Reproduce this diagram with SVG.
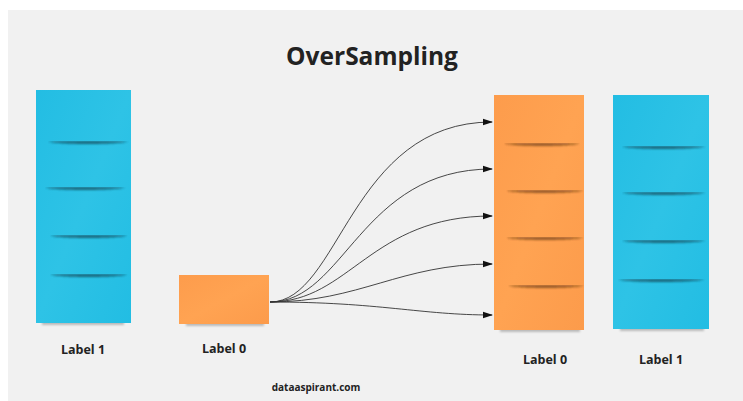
<svg xmlns="http://www.w3.org/2000/svg" width="743" height="401" viewBox="0 0 743 401">
<defs>
<linearGradient id="gb" x1="0" y1="0" x2="1" y2="1">
<stop offset="0" stop-color="#23bde3"/><stop offset="0.5" stop-color="#2ec3e6"/><stop offset="1" stop-color="#22bde3"/>
</linearGradient>
<linearGradient id="go" x1="0" y1="0" x2="1" y2="1">
<stop offset="0" stop-color="#fd9c4c"/><stop offset="0.5" stop-color="#ffa352"/><stop offset="1" stop-color="#fc9b4b"/>
</linearGradient>
<filter id="sh" filterUnits="userSpaceOnUse" x="0" y="0" width="743" height="401"><feGaussianBlur stdDeviation="0.8"/></filter>
<marker id="ah" markerWidth="10" markerHeight="8" refX="9" refY="4" orient="auto" markerUnits="userSpaceOnUse">
<path d="M0,0.8 L10,4 L0,7.2 z" fill="#111"/>
</marker>
<path id="s1" d="M0,0 C8,3 72,3 80,0 Q40,-0.4 0,0 z"/>
</defs>
<style>
.t{font-family:"Open Sans","Noto Sans","Liberation Sans",sans-serif;font-weight:bold;fill:#222;text-anchor:middle}
.lb{font-size:12.5px}
.bl{fill:url(#gb)}
.or{fill:url(#go)}
.sep{fill:#0e3a48;opacity:0.8;filter:url(#sh)}
.sepo{fill:#5a2e0c;opacity:0.75;filter:url(#sh)}
.bsh{fill:#777;opacity:0.45;filter:url(#sh)}
.c{fill:none;stroke:#333;stroke-width:0.9;marker-end:url(#ah)}
</style>
<rect width="743" height="401" fill="#fff"/>
<rect x="8" y="10" width="735" height="391" fill="#f1f1f1"/>
<text class="t" x="372" y="65" font-size="24.5">OverSampling</text>

<g id="left-label1">
<rect class="bsh" x="42" y="321" width="82" height="4"/>
<rect class="bl" x="36" y="90" width="95" height="233"/>
<use class="sep" href="#s1" transform="translate(48,141.5)"/>
<use class="sep" href="#s1" transform="translate(45,187.5)"/>
<use class="sep" href="#s1" transform="translate(50,235.5) scale(0.97,1)"/>
<use class="sep" href="#s1" transform="translate(50,274.5) scale(0.97,1)"/>
<text class="t lb" x="83" y="354">Label 1</text>
</g>

<g id="left-label0">
<rect class="bsh" x="186" y="322" width="78" height="4"/>
<rect class="or" x="179" y="275" width="90" height="49"/>
<text class="t lb" x="224" y="353">Label 0</text>
</g>

<g id="right-label0">
<rect class="bsh" x="500" y="328" width="80" height="4"/>
<rect class="or" x="494" y="95" width="90" height="235"/>
<use class="sepo" href="#s1" transform="translate(504,143.5) scale(0.95,1)"/>
<use class="sepo" href="#s1" transform="translate(506,190.5) scale(0.97,1)"/>
<use class="sepo" href="#s1" transform="translate(506,237.5) scale(0.97,1)"/>
<use class="sepo" href="#s1" transform="translate(508,285.5) scale(0.95,1)"/>
<text class="t lb" x="545" y="364">Label 0</text>
</g>

<g id="right-label1">
<rect class="bsh" x="620" y="327" width="84" height="4"/>
<rect class="bl" x="613" y="95" width="96" height="234"/>
<use class="sep" href="#s1" transform="translate(622,146.5) scale(1.04,1)"/>
<use class="sep" href="#s1" transform="translate(622,192.5) scale(1.04,1)"/>
<use class="sep" href="#s1" transform="translate(622,240.5) scale(1.04,1)"/>
<use class="sep" href="#s1" transform="translate(618,279.5) scale(1.08,1)"/>
<text class="t lb" x="661" y="364">Label 1</text>
</g>

<g id="connectors">
<path class="c" d="M270,302 C340,302 350,122 492,122"/>
<path class="c" d="M270,302 C345,302 360,169 492,169"/>
<path class="c" d="M270,302 C350,302 370,216 492,216"/>
<path class="c" d="M270,302 C360,302 400,264 492,264"/>
<path class="c" d="M270,302 C380,302 420,315 492,315"/>
</g>

<text class="t" x="316" y="391" font-size="10">dataaspirant.com</text>
</svg>
